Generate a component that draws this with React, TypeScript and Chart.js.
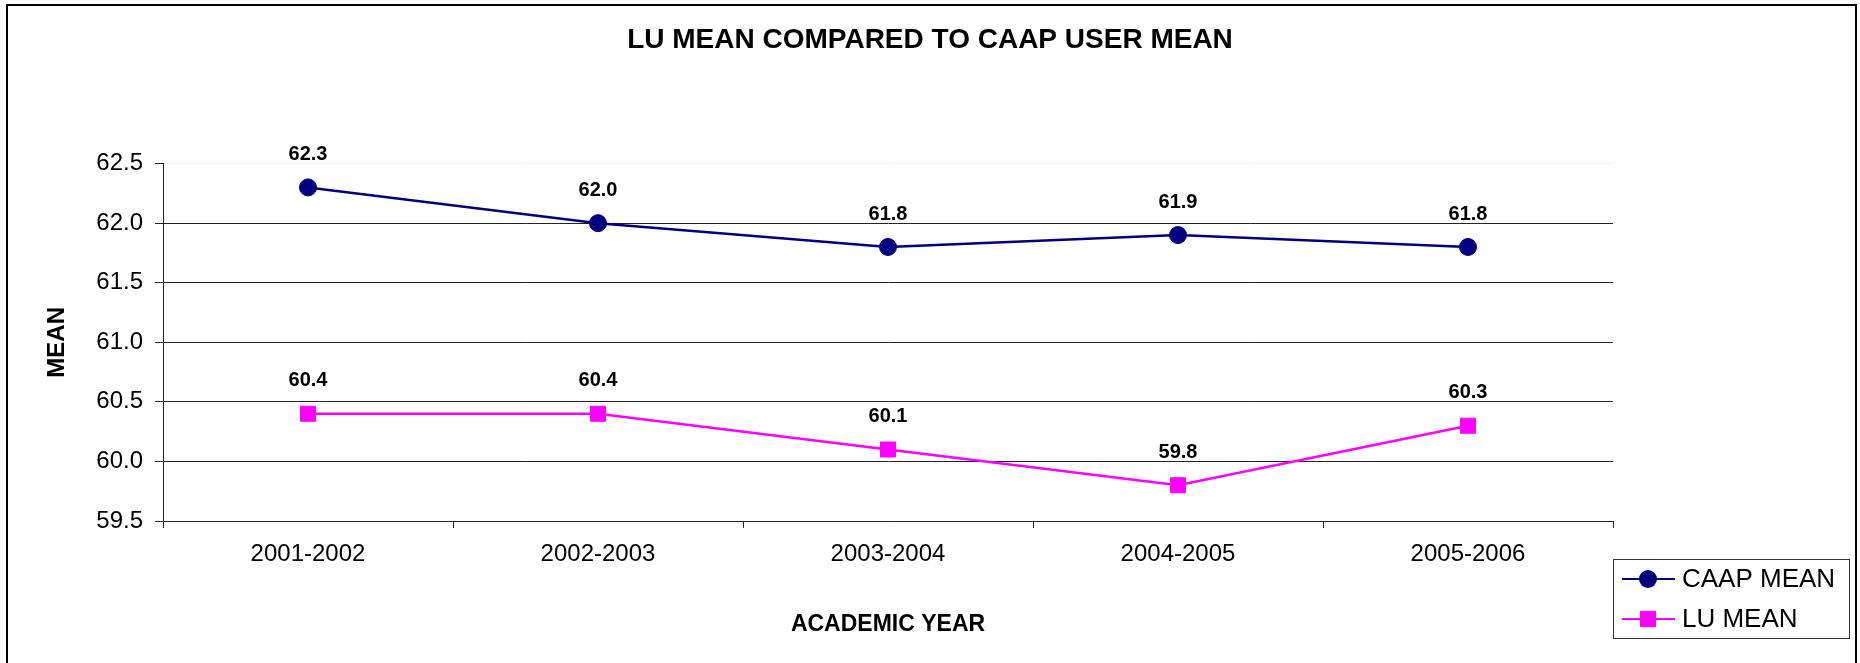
import React, { useEffect, useRef } from 'react';
import { Chart, registerables } from 'chart.js';

Chart.register(...registerables);

const TITLE = 'LU MEAN COMPARED TO CAAP USER MEAN';
const X_TITLE = 'ACADEMIC YEAR';
const Y_TITLE = 'MEAN';
const YEARS = ['2001-2002', '2002-2003', '2003-2004', '2004-2005', '2005-2006'];
const CAAP_MEAN = [62.3, 62.0, 61.8, 61.9, 61.8];
const LU_MEAN = [60.4, 60.4, 60.1, 59.8, 60.3];
const SERIES_NAMES = ['CAAP MEAN', 'LU MEAN'];
const Y_MIN = 59.5;
const Y_MAX = 62.5;
const Y_STEP = 0.5;

const FONT = '"Liberation Sans", Arial, Helvetica, sans-serif';
const NAVY = '#000080';
const MAGENTA = '#FF00FF';
const GRID = '#222';

const dataLabels = {
  id: 'dataLabels',
  afterDatasetsDraw(chart: any) {
    const ctx = chart.ctx;
    ctx.save();
    ctx.font = `bold 20px ${FONT}`;
    ctx.fillStyle = '#000';
    ctx.textAlign = 'center';
    ctx.textBaseline = 'middle';
    chart.data.datasets.forEach((ds: any, i: number) => {
      const meta = chart.getDatasetMeta(i);
      meta.data.forEach((pt: any, j: number) => {
        ctx.fillText(Number(ds.data[j]).toFixed(1), pt.x, pt.y - 33);
      });
    });
    ctx.restore();
  },
};

const boxLegend = {
  id: 'boxLegend',
  afterDraw(chart: any) {
    const { ctx, chartArea } = chart;
    const x0 = Math.round(chartArea.right);
    const y0 = Math.round(chartArea.bottom) + 38;
    const w = 236;
    const h = 79;
    ctx.save();
    ctx.fillStyle = '#fff';
    ctx.fillRect(x0, y0, w, h);
    ctx.strokeStyle = '#333';
    ctx.lineWidth = 1;
    ctx.strokeRect(x0 + 0.5, y0 + 0.5, w, h);
    chart.data.datasets.forEach((ds: any, i: number) => {
      const cy = y0 + 20 + i * 40;
      ctx.strokeStyle = ds.borderColor;
      ctx.lineWidth = 2;
      ctx.beginPath();
      ctx.moveTo(x0 + 9, cy);
      ctx.lineTo(x0 + 62, cy);
      ctx.stroke();
      ctx.fillStyle = ds.pointBackgroundColor;
      const mx = x0 + 35;
      if (ds.pointStyle === 'circle') {
        ctx.beginPath();
        ctx.arc(mx, cy, 9, 0, Math.PI * 2);
        ctx.fill();
      } else {
        ctx.fillRect(mx - 8, cy - 8, 16, 16);
      }
      ctx.fillStyle = '#000';
      ctx.font = `26px ${FONT}`;
      ctx.textAlign = 'left';
      ctx.textBaseline = 'middle';
      ctx.fillText(ds.label, x0 + 69, cy + 1);
    });
    ctx.restore();
  },
};

const outerBorder = {
  id: 'outerBorder',
  afterDraw(chart: any) {
    const ctx = chart.ctx;
    ctx.save();
    ctx.strokeStyle = '#000';
    ctx.lineWidth = 2;
    ctx.strokeRect(7, 5, 1849, 700);
    ctx.restore();
  },
};

export default function App() {
  const ref = useRef<HTMLCanvasElement>(null);

  useEffect(() => {
    if (!ref.current) return;
    Chart.defaults.color = '#000';
    Chart.defaults.font.family = FONT;
    const chart = new Chart(ref.current, {
      type: 'line',
      data: {
        labels: YEARS,
        datasets: [
          {
            label: SERIES_NAMES[0],
            data: CAAP_MEAN,
            borderColor: NAVY,
            backgroundColor: NAVY,
            pointBackgroundColor: NAVY,
            pointBorderColor: NAVY,
            pointStyle: 'circle',
            pointRadius: 8.5,
            pointBorderWidth: 1,
            borderWidth: 2.5,
            tension: 0,
          },
          {
            label: SERIES_NAMES[1],
            data: LU_MEAN,
            borderColor: MAGENTA,
            backgroundColor: MAGENTA,
            pointBackgroundColor: MAGENTA,
            pointBorderColor: MAGENTA,
            pointStyle: 'rect',
            pointRadius: 10.6,
            pointBorderWidth: 1,
            borderWidth: 2.5,
            tension: 0,
          },
        ],
      },
      options: {
        animation: false,
        responsive: false,
        devicePixelRatio: 1,
        layout: { padding: 0 },
        plugins: {
          legend: { display: false },
          tooltip: { enabled: false },
          title: {
            display: true,
            text: TITLE,
            color: '#000',
            font: { family: FONT, size: 28, weight: 'bold' },
            padding: { top: 23, bottom: 107 },
          },
        },
        scales: {
          x: {
            type: 'category',
            offset: true,
            grid: {
              display: true,
              offset: true,
              drawOnChartArea: false,
              drawTicks: true,
              tickLength: 7,
              color: GRID,
              tickColor: GRID,
            },
            border: { display: true, color: GRID, width: 1 },
            ticks: {
              font: { family: FONT, size: 24 },
              color: '#000',
              padding: 12,
              maxRotation: 0,
              autoSkip: false,
            },
            title: {
              display: true,
              text: X_TITLE,
              color: '#000',
              font: { family: FONT, size: 23, weight: 'bold' },
              padding: { top: 0, bottom: 25 },
            },
            afterFit(scale: any) {
              scale.height = 142;
            },
          },
          y: {
            type: 'linear',
            position: 'left',
            min: Y_MIN,
            max: Y_MAX,
            grid: {
              display: true,
              drawTicks: true,
              tickLength: 8,
              color: (c: any) => (c.tick && c.tick.value === Y_MAX ? '#f4f4f4' : GRID),
              tickColor: GRID,
              lineWidth: 1,
            },
            border: { display: true, color: GRID, width: 1 },
            ticks: {
              stepSize: Y_STEP,
              font: { family: FONT, size: 24 },
              color: '#000',
              padding: 12,
              callback: (v: any) => Number(v).toFixed(1),
            },
            title: {
              display: true,
              text: Y_TITLE,
              color: '#000',
              font: { family: FONT, size: 24, weight: 'bold' },
              padding: { top: 43, bottom: 0 },
            },
            afterFit(scale: any) {
              scale.width = 163;
            },
          },
          yRight: {
            type: 'linear',
            position: 'right',
            display: true,
            grid: { display: false, drawTicks: false },
            border: { display: false },
            ticks: { display: false },
            title: { display: false },
            afterFit(scale: any) {
              scale.width = 247;
            },
          },
        },
      },
      plugins: [dataLabels, boxLegend, outerBorder],
    } as any);
    return () => chart.destroy();
  }, []);

  return (
    <div style={{ position: 'absolute', left: 0, top: 0, width: 1860, height: 663, background: '#fff' }}>
      <canvas ref={ref} width={1860} height={663} style={{ display: 'block' }} />
    </div>
  );
}
